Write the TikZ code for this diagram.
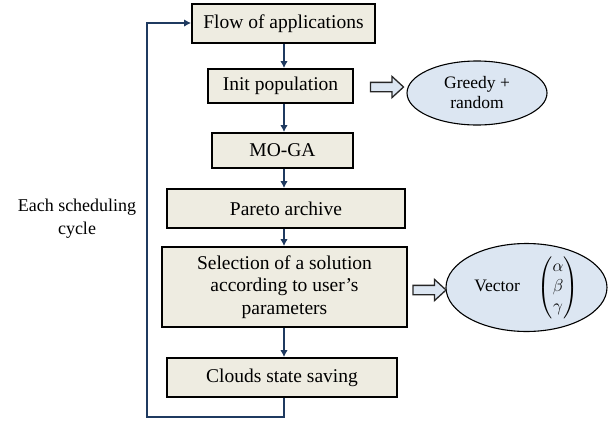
\documentclass[tikz,border=0pt]{standalone}
\usepackage{amsmath}
\usepackage{fontspec}
\setmainfont{Liberation Serif}
\usetikzlibrary{shapes.geometric,shapes.arrows,arrows.meta}
\definecolor{boxfill}{HTML}{EEECE1}
\definecolor{ellfill}{HTML}{DCE6F2}
\definecolor{navy}{HTML}{1F3A60}
\tikzset{
  stepbox/.style={draw=black, line width=1.8pt, fill=boxfill, inner sep=0pt, align=center,
    font=\fontsize{19.5}{22.5}\selectfont},
  ell/.style={draw=black, line width=1.1pt, fill=ellfill, ellipse, inner sep=0pt, align=center,
    font=\fontsize{17.5}{20}\selectfont},
  flow/.style={draw=navy, line width=2.2pt, -{Latex[length=7pt,width=7.5pt]}},
  blockarrow/.style={single arrow, draw=black!85, line width=1.3pt, fill=ellfill,
    minimum height=33pt, inner xsep=0pt, inner ysep=4pt, single arrow head extend=6pt,
    single arrow tip angle=85, shape border rotate=0}
}
\begin{document}
\begin{tikzpicture}[x=1pt,y=1pt]
\useasboundingbox (0,0) rectangle (608,-421);
\node[stepbox, minimum width=183pt, minimum height=39pt] (b1) at (283.5,-23.5) {Flow of applications};
\node[stepbox, minimum width=145pt, minimum height=34pt] (b2) at (280.5,-86) {Init population};
\node[stepbox, minimum width=141pt, minimum height=35pt] (b3) at (282.5,-150.5) {MO-GA};
\node[stepbox, minimum width=238pt, minimum height=39pt] (b4) at (286,-208.5) {Pareto archive};
\node[stepbox, minimum width=245pt, minimum height=80pt] (b5) at (284.5,-287) {Selection of a solution\\according to user's\\parameters};
\node[stepbox, minimum width=230pt, minimum height=39pt] (b6) at (282,-377.5) {Clouds state saving};

\node[ell, minimum width=140pt, minimum height=64pt] (e1) at (477,-93) {Greedy +\\random};
\node[ell, minimum width=161pt, minimum height=80pt] (e2) at (526.5,-287.5) {Vector\quad$\begin{pmatrix}\alpha\\ \beta\\ \gamma\end{pmatrix}$};

\node[blockarrow] (a1) at (384.5,-87) {};
\node[blockarrow] (a2) at (427,-290) {};

\node[align=center, font=\fontsize{18}{23}\selectfont] (lbl) at (77,-219) {Each scheduling\\cycle};

\coordinate (c1) at (284,-417);
\coordinate (c2) at (147,-417);
\coordinate (c3) at (147,-23);

\draw[flow] (b1.south -| 284,0) -- (b2.north -| 284,0);
\draw[flow] (b2.south -| 284,0) -- (b3.north -| 284,0);
\draw[flow] (b3.south -| 284,0) -- (b4.north -| 284,0);
\draw[flow] (b4.south -| 284,0) -- (b5.north -| 284,0);
\draw[flow] (b5.south -| 284,0) -- (b6.north -| 284,0);
\draw[flow] (b6.south -| c1) -- (c1) -- (c2) -- (c3) -- (b1.west |- c3);
\end{tikzpicture}
\end{document}
